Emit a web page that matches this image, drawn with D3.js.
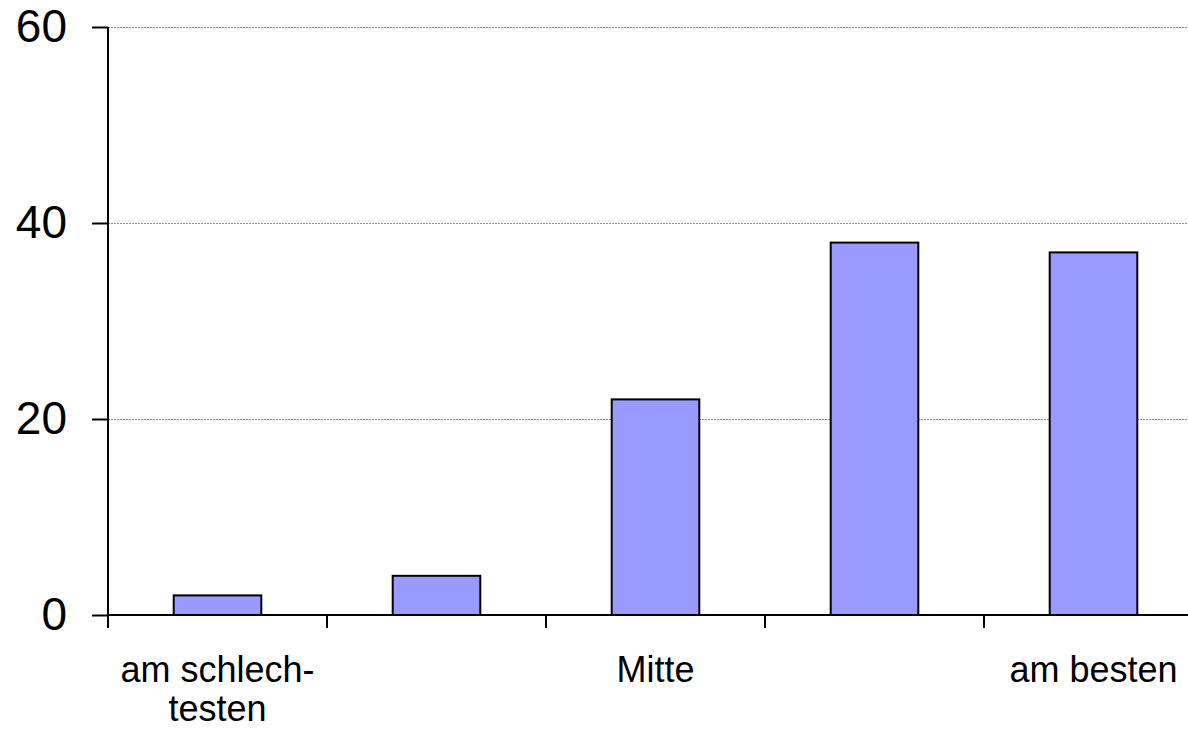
<!DOCTYPE html>
<html>
<head>
<meta charset="utf-8">
<script src="https://cdn.jsdelivr.net/npm/d3@7/dist/d3.min.js"></script>
<style>
  html, body { margin: 0; padding: 0; background: #fff; }
  svg { display: block; font-family: "Liberation Sans", Arial, sans-serif; }
</style>
</head>
<body>
<svg id="chart" width="1188" height="733"></svg>
<script>
// Ratings from worst (1) to best (5)
const categories = ["1", "2", "3", "4", "5"];
const values = [2, 4, 22, 38, 37];
const categoryLabels = [["am schlech-", "testen"], [], ["Mitte"], [], ["am besten"]];
const yTicks = [0, 20, 40, 60];

const svg = d3.select("#chart");
const margin = { left: 108, top: 27 };
const bandW = 219;
const x = d3.scaleBand()
  .domain(categories)
  .range([margin.left, margin.left + bandW * categories.length])
  .paddingInner(0.6).paddingOuter(0.3);
const y = d3.scaleLinear().domain([0, 60]).range([615, margin.top]);

const right = 1188;

// horizontal gridlines
svg.append("g").selectAll("line")
  .data(yTicks.filter(d => d > 0))
  .join("line")
  .attr("x1", margin.left).attr("x2", right)
  .attr("y1", d => y(d) + 0.5).attr("y2", d => y(d) + 0.5)
  .attr("stroke", "#8a8a8a").attr("stroke-width", 1)
  .attr("stroke-dasharray", "2,1");

// bars
svg.append("g").selectAll("rect")
  .data(values)
  .join("rect")
  .attr("x", (d, i) => x(categories[i]))
  .attr("width", x.bandwidth())
  .attr("y", d => y(d))
  .attr("height", d => y(0) - y(d))
  .attr("fill", "#9999FF")
  .attr("stroke", "#000").attr("stroke-width", 2);

// y axis
const yAxis = d3.axisLeft(y).tickValues(yTicks).tickSize(16).tickPadding(25);
const gy = svg.append("g").attr("transform", `translate(${margin.left},0)`).call(yAxis);
gy.select(".domain").remove();
gy.selectAll(".tick line").attr("stroke", "#000").attr("stroke-width", 2);
gy.selectAll(".tick text").attr("font-size", 46).attr("fill", "#000")
  .attr("font-family", "Liberation Sans, Arial, sans-serif");
svg.append("line")
  .attr("x1", margin.left).attr("x2", margin.left)
  .attr("y1", y(60)).attr("y2", 628)
  .attr("stroke", "#000").attr("stroke-width", 2);

// x axis line with boundary ticks between categories
svg.append("line")
  .attr("x1", margin.left).attr("x2", right)
  .attr("y1", y(0)).attr("y2", y(0))
  .attr("stroke", "#000").attr("stroke-width", 2);
const boundaries = d3.range(categories.length + 1).map(i => margin.left + i * bandW);
svg.append("g").selectAll("line")
  .data(boundaries)
  .join("line")
  .attr("x1", d => d).attr("x2", d => d)
  .attr("y1", y(0)).attr("y2", 628)
  .attr("stroke", "#000").attr("stroke-width", 2);

// category labels
const lab = svg.append("g").selectAll("text")
  .data(categoryLabels)
  .join("text")
  .attr("text-anchor", "middle")
  .attr("font-size", 36)
  .attr("fill", "#000")
  .attr("x", (d, i) => x(categories[i]) + x.bandwidth() / 2)
  .attr("y", 682);
lab.selectAll("tspan")
  .data(d => d)
  .join("tspan")
  .attr("x", function () { return d3.select(this.parentNode).attr("x"); })
  .attr("dy", (d, j) => j === 0 ? 0 : 39)
  .text(d => d);
</script>
</body>
</html>
